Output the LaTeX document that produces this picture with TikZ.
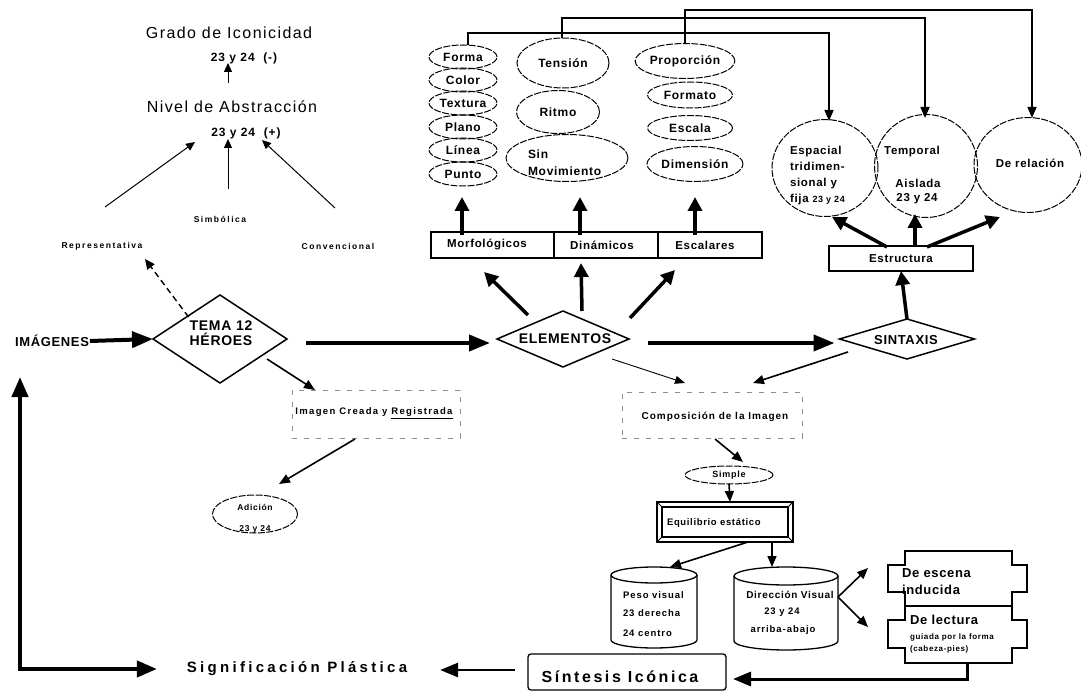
\documentclass[tikz,border=0pt]{standalone}
\usepackage{fontspec}
\setmainfont{Liberation Sans}
\usetikzlibrary{arrows.meta,shapes.geometric,calc}
\newcommand\setfz[2]{\fontsize{#1}{#2}\selectfont}
\newcommand\lsp[1]{\addfontfeature{LetterSpace=#1}}
\begin{document}
\begin{tikzpicture}[x=1pt,y=1pt,
  every node/.style={inner sep=0pt, outer sep=0pt},
  bar/.style={line width=3.5pt, -{Triangle[length=14pt,width=14pt]}},
  barl/.style={line width=4pt, -{Triangle[length=21pt,width=16pt]}},
  med/.style={line width=1.6pt, -{Triangle[length=11pt,width=9pt]}},
  fine/.style={line width=1pt, -{Triangle[length=9pt,width=8pt]}},
  conn/.style={line width=1.6pt, -{Triangle[length=11pt,width=9pt]}},
  dell/.style={draw, ellipse, line width=1pt, dash pattern=on 7pt off 1.5pt},
  box/.style={draw, rectangle, line width=1.3pt},
  faint/.style={draw=black!45, line width=0.8pt, dash pattern=on 5pt off 7pt},
  lblA/.style={font=\bfseries\setfz{12}{14}\lsp{6}},
  lblS/.style={font=\bfseries\setfz{8.5}{10}\lsp{18}},
  lblM/.style={font=\bfseries\setfz{11.5}{14}\lsp{6}},
  ]
\useasboundingbox (0,0) rectangle (1081,-692);

% ---------- top left ----------
\node[font=\setfz{16}{18}\lsp{9}] (grado) at (229,-33) {Grado de Iconicidad};
\node[font=\bfseries\setfz{12}{14}\lsp{8}] (gnum) at (244,-58) {23 y 24\ \ (-)};
\node[font=\setfz{16}{18}\lsp{9}] (nivel) at (232,-107) {Nivel de Abstracción};
\node[font=\bfseries\setfz{12}{14}\lsp{8}] (nnum) at (246,-133) {23 y 24\ \ (+)};
\node[lblS] (simb) at (220,-219) {Simbólica};
\node[lblS] (repr) at (102,-246) {Representativa};
\node[lblS] (conv) at (338,-246) {Convencional};

\coordinate (nvUp) at (228,-83);   \coordinate (grIn) at (228,-63);
\coordinate (rpOut) at (105,-207); \coordinate (nvInL) at (195,-142);
\coordinate (sbOut) at (228,-189); \coordinate (nvInM) at (228,-139);
\coordinate (cvOut) at (335,-208); \coordinate (nvInR) at (262,-140);
\draw[fine] (nvUp) -- (grIn);
\draw[fine] (rpOut) -- (nvInL);
\draw[fine] (sbOut) -- (nvInM);
\draw[fine] (cvOut) -- (nvInR);

% ---------- main row ----------
\node[font=\bfseries\setfz{13}{15}\lsp{5}] (imag) at (52,-341) {IMÁGENES};
\node[draw, diamond, line width=1.5pt, minimum width=134, minimum height=88] (tema) at (220,-339) {};
\node[font=\bfseries\setfz{14}{15}\lsp{5}, align=center] (temaT) at (221,-333) {TEMA 12\\HÉROES};
\node[draw, diamond, line width=1.5pt, minimum width=132, minimum height=56] (elem) at (563,-339) {};
\node[font=\bfseries\setfz{14}{15}\lsp{5}] (elemT) at (565,-339) {ELEMENTOS};
\node[draw, diamond, line width=1.5pt, minimum width=135, minimum height=40] (sint) at (907,-339) {};
\node[font=\bfseries\setfz{13}{15}\lsp{5}] (sintT) at (906,-340) {SINTAXIS};

\coordinate (repIn) at (145,-259);
\draw[line width=1.4pt, dash pattern=on 6pt off 4pt, -{Triangle[length=10pt,width=9pt]}] (tema.north west) ++(2,0) -- (repIn);
\draw[barl] (imag.east) ++(1,0) -- (tema.west);
\draw[barl] ($(tema.east)+(19,-4)$) -- ($(elem.west)+(-7,-4)$);
\draw[barl] ($(elem.east)+(19,-4)$) -- ($(sint.west)+(-5,-4)$);

% ---------- elements group ----------
\node[box, minimum width=123, minimum height=26] (morf) at (492.5,-245) {};
\node[box, minimum width=104, minimum height=26] (din) at (606,-245) {};
\node[box, minimum width=104, minimum height=26] (escal) at (710,-245) {};
\node[lblM] at (487,-245) {Morfológicos};
\node[lblM] at (602,-245) {Dinámicos};
\node[lblM] at (705,-245) {Escalares};

\draw[bar] (528,-315) -- (484,-272);
\draw[bar] (582,-311) -- (581,-263);
\draw[bar] (630,-318) -- (675,-270);
\draw[bar] (morf.north -| 462,0) ++(0,-3) -- (462,-197);
\draw[bar] (din.north -| 580,0) ++(0,-3) -- (580,-197);
\draw[bar] (escal.north -| 695,0) ++(0,-3) -- (695,-197);

% column 1
\node[dell, minimum width=68, minimum height=24, lblA] (forma) at (463,-57) {Forma};
\node[dell, minimum width=68, minimum height=24, lblA] (color) at (463,-80) {Color};
\node[dell, minimum width=68, minimum height=24, lblA] (textura) at (463,-103) {Textura};
\node[dell, minimum width=68, minimum height=24, lblA] (plano) at (463,-127) {Plano};
\node[dell, minimum width=68, minimum height=24, lblA] (linea) at (463,-150) {Línea};
\node[dell, minimum width=68, minimum height=24, lblA] (punto) at (463,-174) {Punto};
% column 2
\node[dell, minimum width=92, minimum height=50, lblA] (tens) at (563,-63) {Tensión};
\node[dell, minimum width=83, minimum height=43, lblA] (ritmo) at (558,-112) {Ritmo};
\node[dell, minimum width=122, minimum height=47] (sinmov) at (567,-158) {};
\node[lblA, align=left, anchor=west, font=\bfseries\setfz{12}{17}\lsp{6}] (sinmovT) at (528,-163) {Sin\\Movimiento};
% column 3
\node[dell, minimum width=96, minimum height=35, lblA] (prop) at (685,-61) {Proporción};
\node[dell, minimum width=85, minimum height=26, lblA] (formato) at (690,-95) {Formato};
\node[dell, minimum width=85, minimum height=25, lblA] (escala) at (690,-128) {Escala};
\node[dell, minimum width=96, minimum height=35, lblA] (dimen) at (695,-164) {Dimensión};

% ---------- structure group ----------
\node[dell, minimum width=106, minimum height=97] (espacial) at (825,-168) {};
\node[dell, minimum width=103, minimum height=103] (temporal) at (926,-166) {};
\node[dell, minimum width=108, minimum height=95] (relacion) at (1028,-165) {};
\node[anchor=west, align=left, font=\bfseries\setfz{11.5}{16}\lsp{6}] (espT) at (790,-176) {Espacial\\tridimen-\\sional y\\fija {\setfz{9}{10}23 y 24}};
\node[lblM] (tmpA) at (912,-152) {Temporal};
\node[lblM] (tmpB) at (918,-183) {Aislada};
\node[lblM] (tmpC) at (917,-199) {23 y 24};
\node[lblM] (relT) at (1030,-163) {De relación};

\node[box, minimum width=144, minimum height=25] (estr) at (901,-258.5) {};
\node[lblM] at (901,-259) {Estructura};

\draw[bar] (sint.north) -- (estr.south);
\draw[bar] (887,-247) -- (832,-217);
\draw[bar] (915,-247) -- (915,-214);
\draw[bar] (927,-247) -- (1000,-217);

\coordinate (espIn) at (829,-121);
\coordinate (tmpIn) at (925,-118);
\coordinate (relIn) at (1032,-118);
\draw[conn] ([xshift=5]forma.north) |- (829,-33) -- (espIn);
\draw[conn] ([xshift=-1]tens.north) |- (925,-18) -- (tmpIn);
\draw[conn] (prop.north) |- (1032,-10) -- (relIn);

% ---------- composition ----------
\node[faint, minimum width=168, minimum height=48] (icr) at (376,-414) {};
\node[font=\bfseries\setfz{9.5}{11}\lsp{14}] (icrT) at (374,-413) {Imagen Creada y \underline{Registrada}};
\node[dell, minimum width=85, minimum height=38] (adic) at (255,-514) {};
\node[align=center, font=\bfseries\setfz{8.5}{21}\lsp{8}] (adicT) at (255,-519) {Adición\\23 y 24};

\draw[med] (267,-359) -- (315,-390);
\draw[med] (355,-439) -- (279,-484);

\node[faint, minimum width=180, minimum height=46] (comp) at (712,-415) {};
\node[font=\bfseries\setfz{10}{12}\lsp{10}] (compT) at (715,-417) {Composición de la Imagen};
\draw[line width=0.9pt, -{Triangle[length=10pt,width=8pt]}] (612,-359) -- (685,-383);
\draw[med] (848,-352) -- (753,-383);

\node[dell, minimum width=88, minimum height=18] (simple) at (729,-475) {};
\node[font=\bfseries\setfz{9}{10}\lsp{8}] at (729,-475) {Simple};
\draw[med] (715,-439) -- (743,-462);
\draw[med] (simple.south) -- (730,-502);

% Equilibrio bevel box
\node[draw, line width=1.6pt, minimum width=136, minimum height=40] (equi) at (725,-522) {};
\draw[line width=1.2pt] (662,-507) rectangle (788,-537);
\draw[line width=1pt] (657,-502) -- (662,-507) (793,-502) -- (788,-507) (657,-542) -- (662,-537) (793,-542) -- (788,-537);
\node[anchor=west, font=\bfseries\setfz{9.5}{11}\lsp{7}] at (667,-523) {Equilibrio estático};

% cylinders
\node[minimum width=86, minimum height=81] (peso) at (654,-607.5) {};
\draw[line width=1.3pt] (611,-575) -- (611,-640) arc[start angle=180,end angle=360,x radius=43,y radius=8] -- (697,-575);
\draw[line width=1.3pt] (654,-575) ellipse[x radius=43, y radius=8];
\node[anchor=west, font=\bfseries\setfz{9.5}{11}\lsp{10}] at (623,-595) {Peso visual};
\node[anchor=west, font=\bfseries\setfz{9.5}{11}\lsp{10}] at (623,-613) {23 derecha};
\node[anchor=west, font=\bfseries\setfz{9.5}{11}\lsp{10}] at (623,-633) {24 centro};

\node[minimum width=104, minimum height=83] (dir) at (786,-608.5) {};
\draw[line width=1.3pt] (734,-576) -- (734,-641) arc[start angle=180,end angle=360,x radius=52,y radius=9] -- (838,-576);
\draw[line width=1.3pt] (786,-576) ellipse[x radius=52, y radius=9];
\node[font=\bfseries\setfz{10}{11}\lsp{7}] at (790,-595) {Dirección Visual};
\node[font=\bfseries\setfz{9.5}{11}\lsp{10}] at (782,-612) {23 y 24};
\node[font=\bfseries\setfz{9.5}{11}\lsp{10}] at (783,-630) {arriba-abajo};

\draw[med] (748,-542) -- (670,-567);
\draw[med] (772,-542) -- (772,-567);

% cross shapes
\node[minimum width=107, minimum height=55] (escena) at (958.5,-578.5) {};
\node[minimum width=107, minimum height=57] (lectura) at (958.5,-634.5) {};
\draw[line width=1.4pt] (905,-551) -- (1012,-551) -- (1012,-565) -- (1027,-565) -- (1027,-592) -- (1012,-592) -- (1012,-606) -- (905,-606) -- (905,-592) -- (888,-592) -- (888,-565) -- (905,-565) -- cycle;
\draw[line width=1.4pt] (905,-606) -- (1012,-606) -- (1012,-620) -- (1027,-620) -- (1027,-648) -- (1012,-648) -- (1012,-663) -- (905,-663) -- (905,-648) -- (888,-648) -- (888,-620) -- (905,-620) -- cycle;
\node[anchor=west, font=\bfseries\setfz{13}{15}\lsp{5}] at (902,-573) {De escena};
\node[anchor=west, font=\bfseries\setfz{13}{15}\lsp{5}] at (902,-590) {inducida};
\node[anchor=west, font=\bfseries\setfz{13}{15}\lsp{5}] at (910,-620) {De lectura};
\node[anchor=west, font=\bfseries\setfz{8}{10}\lsp{8}] at (910,-637) {guiada por la forma};
\node[anchor=west, font=\bfseries\setfz{8}{10}\lsp{8}] at (910,-649) {(cabeza-pies)};

\coordinate (escIn) at (868,-568);
\coordinate (lecIn) at (868,-627);
\draw[med] (838,-597) -- (escIn);
\draw[med] (838,-597) -- (lecIn);

% ---------- bottom ----------
\node[draw, line width=1.3pt, rounded corners=3pt, minimum width=198, minimum height=36] (sintesis) at (627,-672) {};
\node[font=\bfseries\setfz{16}{18}\lsp{16}] (sintesisT) at (620,-677) {Síntesis Icónica};
\node[font=\bfseries\setfz{15}{18}\lsp{22}] (signif) at (297,-669) {Significación Plástica};

\draw[line width=3pt, -{Triangle[length=18pt,width=14pt]}] (lectura.south) ++(8.5,0) |- ($(sintesis.east)+(7,-7)$);
\draw[line width=2.6pt, -{Triangle[length=18pt,width=14pt]}] ($(sintesis.west)+(-13,2)$) -- ($(signif.east)+(33,-1)$);

\coordinate (lt) at (20,-377);
\coordinate (lb) at (20,-669);
\draw[line width=4pt, {Triangle[length=20pt,width=16pt]}-{Triangle[length=20pt,width=16pt]}] (lt) -- (lb) -- ($(signif.west)+(-30,0)$);
\end{tikzpicture}
\end{document}
